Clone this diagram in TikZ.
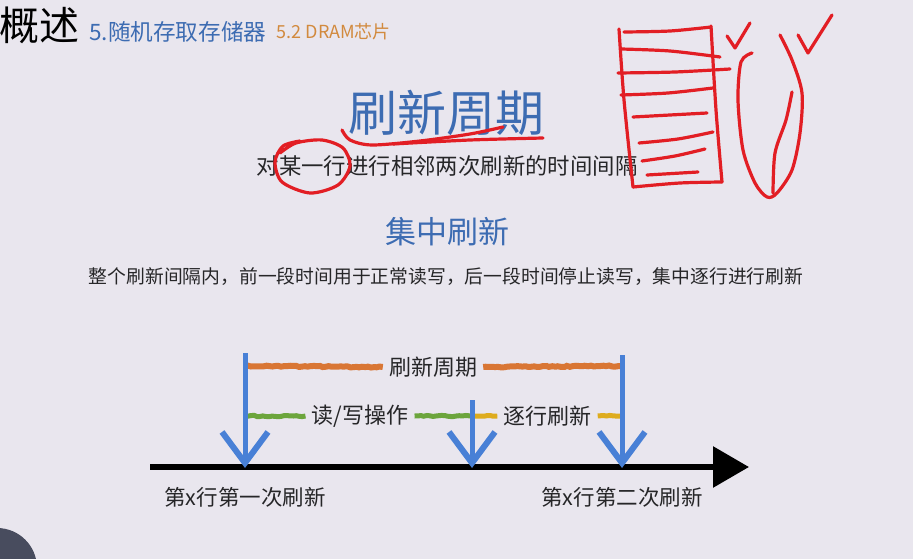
\documentclass[tikz,border=0pt]{standalone}
\usepackage{fontspec}
\setmainfont{Noto Sans CJK SC}
\usetikzlibrary{positioning}
\usetikzlibrary{calc}
\usetikzlibrary{arrows.meta}
\usetikzlibrary{decorations.pathmorphing}
\definecolor{bgcol}{RGB}{233,230,238}
\definecolor{titleblue}{RGB}{61,108,178}
\definecolor{suborange}{RGB}{210,138,62}
\definecolor{perorange}{RGB}{217,118,52}
\definecolor{rwgreen}{RGB}{108,165,60}
\definecolor{refyellow}{RGB}{222,172,30}
\definecolor{arrowblue}{RGB}{72,128,214}
\definecolor{inkred}{RGB}{226,30,36}
\definecolor{textgray}{RGB}{38,38,40}
\definecolor{btndark}{RGB}{72,76,94}
\tikzset{
	fsz/.style={font=\fontsize{#1}{#1}\selectfont},
	chalk/.style={line width=#1, decorate, decoration={random steps, segment length=3pt, amplitude=0.6pt}},
}

\begin{document}
\begin{tikzpicture}[x=1pt, y=-1pt, text=textgray, inner sep=0pt]
    \tikzstyle{ink}=[draw=inkred, line width=3.2pt, line cap=round, line join=round]
    \tikzstyle{tick}=[draw=arrowblue, line width=5pt, -{Straight Barb[length=31pt, width=46pt, line width=6pt]}]
    \tikzstyle{span}=[fsz=22, inner sep=6pt]

    \useasboundingbox (0,0) rectangle (913,559);
    \fill[bgcol] (0,0) rectangle (913,559);
    \fill[btndark] (-3,568) circle (40);

    % heading
    \node[fsz=40, anchor=west, text=black] (sec) at (-1,25) {概述};
    \node[fsz=22.6, anchor=west, text=titleblue] (chap) at (89,32) {5.随机存取存储器};
    \node[fsz=18, anchor=west, text=suborange, right=10pt of chap] (part) {5.2 DRAM芯片};

    \node[fsz=49, text=titleblue] (title) at (446,113) {刷新周期};
    \node[fsz=22.4] (def) at (447,166) {对某一行进行相邻两次刷新的时间间隔};
    \node[fsz=31, text=titleblue] (mode) at (447,232) {集中刷新};
    \node[fsz=18.8] (desc) at (446,277) {整个刷新间隔内，前一段时间用于正常读写，后一段时间停止读写，集中逐行进行刷新};

    % time line
    \coordinate (axs) at (150,467);
    \coordinate (axe) at (749,467);
    \coordinate (r1) at (245,468);
    \coordinate (r2) at (472,468);
    \coordinate (r3) at (622,468);
    \coordinate (r1top) at (245,353);
    \coordinate (r2top) at (472,400);
    \coordinate (r3top) at (622,355);

    \draw[line width=6pt, -{Triangle[length=36pt, width=40pt]}] (axs) -- (axe);

    \node[span] (per) at (433,367) {刷新周期};
    \node[span] (rw) at (360,416) {读/写操作};
    \node[span] (ref) at (547.5,416) {逐行刷新};
    \coordinate (perl) at (245,366);
    \coordinate (perr) at (622,366);
    \coordinate (rwl) at (245,416);
    \coordinate (rwr) at (472,416);
    \coordinate (refr) at (622,416);

    \draw[perorange, chalk=6pt] (perl) -- (per.west);
    \draw[perorange, chalk=6pt] (per.east) -- (perr);
    \draw[rwgreen, chalk=5pt] (rwl) -- (rw.west);
    \draw[rwgreen, chalk=5pt] (rw.east) -- (rwr);
    \draw[refyellow, chalk=5pt] (rwr) -- (ref.west);
    \draw[refyellow, chalk=5pt] (ref.east) -- (refr);

    \draw[tick] (r1top) -- (r1);
    \draw[tick] (r2top) -- (r2);
    \draw[tick] (r3top) -- (r3);

    \node[fsz=21.5, below=19pt of r1] (first) {第x行第一次刷新};
    \node[fsz=21.5, below=19pt of r3] (second) {第x行第二次刷新};

    % handwriting
    \draw[ink] plot[smooth] coordinates {(342,130) (350,140) (372,145) (420,141) (470,134) (503,127)};
    \draw[ink] plot[smooth] coordinates {(393,144) (470,140) (543,138)};
    \draw[ink] plot[smooth] coordinates {(300,141) (283,146) (275,162) (282,182) (310,193) (338,185) (350,166) (343,148) (322,140) (296,143) (280,153)};

    \draw[ink] plot[smooth] coordinates {(624,32) (670,31) (711,27)};
    \draw[ink] plot[smooth] coordinates {(619,29) (624,100) (633,187)};
    \draw[ink] plot[smooth] coordinates {(633,187) (680,183) (722,182)};
    \draw[ink] plot[smooth] coordinates {(711,26) (716,110) (722,182)};
    \draw[ink] plot[smooth] coordinates {(621,49) (670,51) (720,57)};
    \draw[ink] plot[smooth] coordinates {(618,73) (675,72) (730,69)};
    \draw[ink] plot[smooth] coordinates {(621,95) (668,93) (713,88)};
    \draw[ink] (633,117) -- (707,113);
    \draw[ink] plot[smooth] coordinates {(639,143) (678,139) (713,132)};
    \draw[ink] plot[smooth] coordinates {(642,161) (675,156) (705,149)};
    \draw[ink] (647,175) -- (698,172);

    \draw[ink] (727,36) -- (735,48) -- (750,23);
    \draw[ink] plot[smooth] coordinates {(752,53) (741,62) (738,100) (743,150) (755,183) (767,197) (777,193) (792,170) (800,133) (802,93) (792,60) (780,35)};
    \draw[ink] plot[smooth] coordinates {(792,92) (786,120) (775,153) (773,193)};
    \draw[ink] (798,35) -- (808,53) -- (832,15);
\end{tikzpicture}
\end{document}
